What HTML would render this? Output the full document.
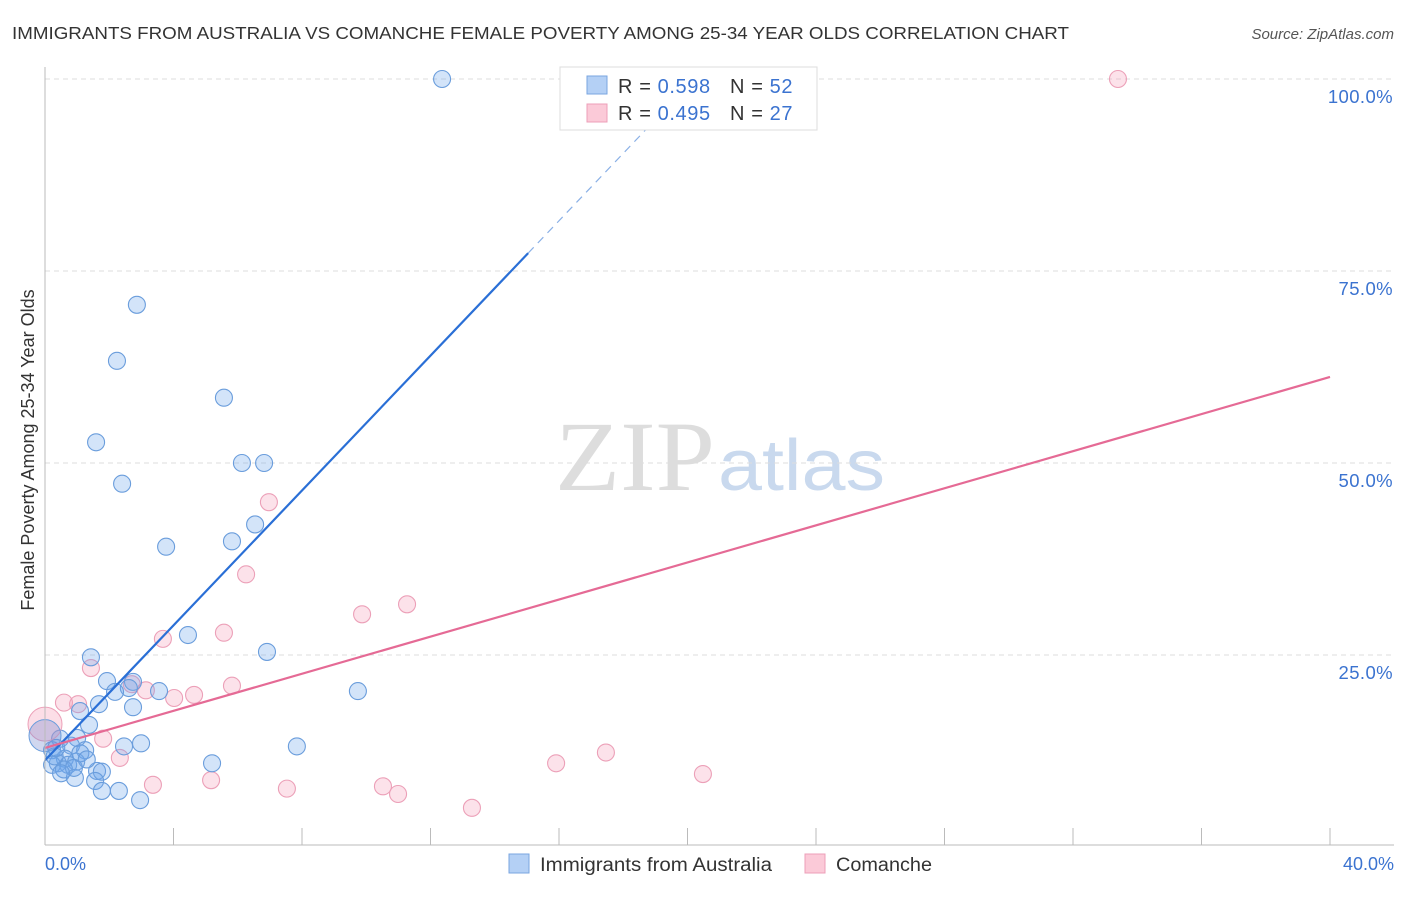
<!DOCTYPE html><html><head><meta charset="utf-8"><style>
body{margin:0;background:#fff;font-family:"Liberation Sans",sans-serif}
</style></head><body>
<svg id="c" width="1406" height="892" xmlns="http://www.w3.org/2000/svg">
<text x="12" y="39" font-size="17.5" fill="#333" textLength="1057" lengthAdjust="spacingAndGlyphs">IMMIGRANTS FROM AUSTRALIA VS COMANCHE FEMALE POVERTY AMONG 25-34 YEAR OLDS CORRELATION CHART</text>
<text x="1394" y="39" font-size="15" fill="#555" font-style="italic" text-anchor="end">Source: ZipAtlas.com</text>
<text x="40" y="456" font-size="18" fill="#333" text-anchor="middle" transform="rotate(-90 34 456)">Female Poverty Among 25-34 Year Olds</text>
<text x="555" y="490" font-size="100" fill="#ddd" textLength="160" lengthAdjust="spacingAndGlyphs" font-family="Liberation Serif,serif">ZIP</text>
<text x="718" y="490" font-size="72" fill="#c9d9ee" textLength="167" lengthAdjust="spacingAndGlyphs">atlas</text>
<g id="grid"></g><g id="pts"></g><g id="lines"></g>
<line x1="45" y1="67" x2="45" y2="845" stroke="#bbb"/>
<line x1="45" y1="845" x2="1394" y2="845" stroke="#bbb"/>
<text x="45" y="870" font-size="18" fill="#3b73d0">0.0%</text>
<text x="1394" y="870" font-size="18" fill="#3b73d0" text-anchor="end">40.0%</text>
<g>
<rect x="560" y="67" width="257" height="63" fill="#fff" stroke="#ddd"/>
<rect x="587" y="76" width="20" height="18" fill="#b4d0f5" stroke="#7aa6e0"/>
<rect x="587" y="104" width="20" height="18" fill="#fbcad8" stroke="#ec9fb8"/>
<text x="618" y="93" font-size="20" fill="#333" letter-spacing="0.6">R = <tspan fill="#3b73d0">0.598</tspan><tspan x="730">N = </tspan><tspan fill="#3b73d0">52</tspan></text>
<text x="618" y="120" font-size="20" fill="#333" letter-spacing="0.6">R = <tspan fill="#3b73d0">0.495</tspan><tspan x="730">N = </tspan><tspan fill="#3b73d0">27</tspan></text>
</g>
<g>
<rect x="509" y="854" width="20" height="19" fill="#b4d0f5" stroke="#7aa6e0"/>
<text x="540" y="871" font-size="19" fill="#333" textLength="232" lengthAdjust="spacingAndGlyphs">Immigrants from Australia</text>
<rect x="805" y="854" width="20" height="19" fill="#fbcad8" stroke="#ec9fb8"/>
<text x="836" y="871" font-size="19" fill="#333" textLength="96" lengthAdjust="spacingAndGlyphs">Comanche</text>
</g>
</svg>
<script>
const yTicks=[25,50,75,100];
const xTicks=[4,8,12,16,20,24,28,32,36,40];
const blueX=[12.36,2.86,2.24,5.57,1.59,6.13,6.82,2.40,6.54,5.82,3.77,4.45,6.91,1.43,9.74,1.93,2.74,3.55,2.61,2.18,1.68,2.74,1.09,1.37,1.00,2.99,2.46,7.84,0.47,0.81,0.22,1.25,0.62,0.40,0.22,0.72,0.97,0.59,1.62,5.20,1.77,0.93,1.56,2.30,1.77,2.96,0.3,0.9,1.1,0.5,0.35,1.3];
const blueY=[100,70.6,63.3,58.5,52.7,50,50,47.3,42.0,39.8,39.1,27.6,25.4,24.7,20.3,21.6,21.5,20.3,20.7,20.2,18.6,18.2,17.7,15.9,14.2,13.5,13.1,13.1,14.1,13.2,12.6,12.6,11.5,10.9,10.7,10.7,11.1,10.1,9.9,10.9,9.8,9.0,8.6,7.3,7.3,6.1,11.8,10.3,12.2,9.6,12.9,11.4];
const pinkX=[33.4,6.97,6.26,11.27,9.87,5.57,3.67,1.43,5.82,4.64,4.02,3.14,0.59,1.03,1.81,2.33,5.17,3.36,7.53,10.52,10.99,13.29,15.91,17.46,20.48,2.7];
const pinkY=[100,44.9,35.5,31.6,30.3,27.9,27.1,23.3,21.0,19.8,19.4,20.4,18.8,18.6,14.1,11.6,8.7,8.1,7.6,7.9,6.9,5.1,10.9,12.3,9.5,21.2];
const blueBig=[0,14.5], pinkBig=[0,16];
const blueFit=[11.3,4.39], pinkFit=[12.9,1.2075];
const sx=v=>45+v/40*1285, sy=v=>847-v/100*768;
const NS="http://www.w3.org/2000/svg";
function mk(t,a,p){const e=document.createElementNS(NS,t);for(const k in a)e.setAttribute(k,a[k]);document.getElementById(p).appendChild(e);return e;}
yTicks.forEach(t=>{
 const l=mk('line',{x1:45,x2:1394,y1:sy(t),y2:sy(t),stroke:'#ddd','stroke-dasharray':'5,4'},'grid');
 
 
 const tx=mk('text',{x:1393,y:sy(t)+24,'font-size':18.5,fill:'#3b73d0','text-anchor':'end','letter-spacing':0.4},'grid');tx.textContent=t.toFixed(1)+'%';
 
 
});
xTicks.forEach(t=>{
 const l=mk('line',{x1:sx(t),x2:sx(t),y1:828,y2:845,stroke:'#bbb'},'grid');
 
 
});
function dots(X,Y,f,s,n){X.forEach((x,i)=>{const c=mk('circle',{cx:sx(x),cy:sy(Y[i]),r:8.5,fill:f,stroke:s,'stroke-width':1.1},'pts');
 
 });}
dots(pinkX,pinkY,'rgba(245,160,185,0.3)','#eca0b8','comanche-point');
dots(blueX,blueY,'rgba(110,165,235,0.3)','#6a9ddc','australia-point');
let b=mk('circle',{cx:sx(pinkBig[0]),cy:sy(pinkBig[1]),r:17,fill:'rgba(245,160,185,0.35)',stroke:'#eca0b8'},'pts');


b=mk('circle',{cx:sx(blueBig[0]),cy:sy(blueBig[1]),r:16,fill:'rgba(120,140,210,0.35)',stroke:'#6a9ddc'},'pts');


let l=mk('line',{x1:sx(0),y1:sy(blueFit[0]),x2:sx(15.04),y2:sy(blueFit[0]+blueFit[1]*15.04),stroke:'#2a6fd6','stroke-width':2.2},'lines');


l=mk('line',{x1:sx(15.04),y1:sy(blueFit[0]+blueFit[1]*15.04),x2:sx(20.2),y2:sy(blueFit[0]+blueFit[1]*20.2),stroke:'#8ab0e6','stroke-width':1.2,'stroke-dasharray':'8,6'},'lines');


l=mk('line',{x1:sx(0),y1:sy(pinkFit[0]),x2:sx(40),y2:sy(pinkFit[0]+pinkFit[1]*40),stroke:'#e56a95','stroke-width':2.2},'lines');


</script></body></html>
